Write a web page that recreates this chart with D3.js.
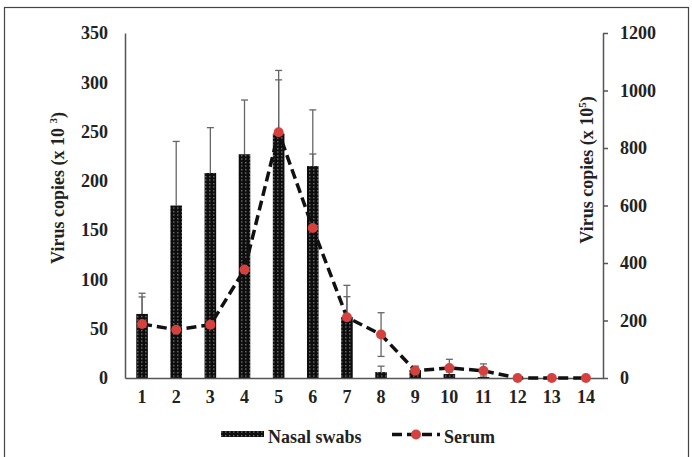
<!DOCTYPE html>
<html>
<head>
<meta charset="utf-8">
<script src="https://cdn.jsdelivr.net/npm/d3@7/dist/d3.min.js"></script>
<style>
  html, body { margin: 0; padding: 0; background: #fff; }
  svg { display: block; }
  text { font-family: "Liberation Serif", "Times New Roman", serif; font-weight: bold; fill: #222; }
</style>
</head>
<body>
<svg id="chart" width="692" height="457"></svg>
<script>
// ---- data ----
const days = ["1","2","3","4","5","6","7","8","9","10","11","12","13","14"];
const nasalMean = [65, 175, 208, 227, 248, 215, 62, 6, 8, 4, 1, 0, 0, 0];
const nasalErr  = [21, 65, 46, 55, 64, 57, 32, 6, 4, 2, 1, 0, 0, 0];
const serumMean = [188, 168, 185, 377, 855, 522, 211, 151, 25, 35, 25, 0, 0, 0];
const serumErr  = [94, 40, 40, 120, 182, 257, 72, 76, 15, 30, 24, 0, 0, 0];
const leftTicks = [0, 50, 100, 150, 200, 250, 300, 350];
const rightTicks = [0, 200, 400, 600, 800, 1000, 1200];

const svg = d3.select("#chart");
const L = 125, R = 603, T = 33, B = 378;

// frame
svg.append("rect").attr("x", 4.5).attr("y", 7.5).attr("width", 684).attr("height", 460)
  .attr("fill", "none").attr("stroke", "#444").attr("stroke-width", 1.2);

// pattern for bars
const defs = svg.append("defs");
const pat = defs.append("pattern").attr("id", "dots").attr("patternUnits", "userSpaceOnUse")
  .attr("width", 4).attr("height", 3.5);
pat.append("rect").attr("width", 4).attr("height", 3.5).attr("fill", "#0d0d0d");
pat.append("rect").attr("x", 1.2).attr("y", 1).attr("width", 1.2).attr("height", 1.2).attr("fill", "#9a9a9a");

const x = d3.scaleBand().domain(days).range([L, R]).paddingInner(0.66).paddingOuter(0.33);
const yL = d3.scaleLinear().domain([0, 350]).range([B, T]);
const yR = d3.scaleLinear().domain([0, 1200]).range([B, T]);
const cx = d => x(d) + x.bandwidth() / 2;

// error bars (drawn under bars)
const eb = svg.append("g").attr("stroke", "#666").attr("stroke-width", 1.3);
days.forEach((d, i) => {
  if (nasalErr[i] <= 0) return;
  const top = yL(nasalMean[i] + nasalErr[i]);
  eb.append("line").attr("x1", cx(d)).attr("x2", cx(d)).attr("y1", yL(nasalMean[i])).attr("y2", top);
  eb.append("line").attr("x1", cx(d) - 3.5).attr("x2", cx(d) + 3.5).attr("y1", top).attr("y2", top);
});
days.forEach((d, i) => {
  if (serumErr[i] <= 0) return;
  const top = yR(serumMean[i] + serumErr[i]);
  const bot = yR(Math.max(0, serumMean[i] - serumErr[i]));
  eb.append("line").attr("x1", cx(d)).attr("x2", cx(d)).attr("y1", bot).attr("y2", top);
  eb.append("line").attr("x1", cx(d) - 3.5).attr("x2", cx(d) + 3.5).attr("y1", top).attr("y2", top);
  eb.append("line").attr("x1", cx(d) - 3.5).attr("x2", cx(d) + 3.5).attr("y1", bot).attr("y2", bot);
});

// bars
svg.append("g").selectAll("rect").data(days).join("rect")
  .attr("x", d => x(d)).attr("width", x.bandwidth())
  .attr("y", (d, i) => yL(nasalMean[i]))
  .attr("height", (d, i) => B - yL(nasalMean[i]))
  .attr("fill", "url(#dots)");

// axes
const fs = "18px";
const gL = svg.append("g").attr("transform", `translate(${L},0)`)
  .call(d3.axisLeft(yL).tickValues(leftTicks).tickSize(0).tickPadding(17).tickFormat(d3.format("d")));
const gR = svg.append("g").attr("transform", `translate(${R},0)`)
  .call(d3.axisRight(yR).tickValues(rightTicks).tickSize(5).tickSizeOuter(0).tickPadding(12).tickFormat(d3.format("d")));
const gX = svg.append("g").attr("transform", `translate(0,${B})`)
  .call(d3.axisBottom(x).tickSize(0).tickPadding(12));
[gL, gR, gX].forEach(g => {
  g.selectAll("path.domain").attr("stroke", "#555").attr("stroke-width", 1.5);
  g.selectAll(".tick line").attr("stroke", "#555").attr("stroke-width", 1.5);
  g.selectAll("text").attr("font-size", fs).attr("font-family", "Liberation Serif").attr("font-weight", "bold").attr("fill", "#222");
});

// serum line
const line = d3.line().x((v, i) => cx(days[i])).y(v => yR(v));
svg.append("path").datum(serumMean).attr("d", line)
  .attr("fill", "none").attr("stroke", "#111").attr("stroke-width", 3.5)
  .attr("stroke-dasharray", "10,5");
svg.append("g").selectAll("circle").data(serumMean).join("circle")
  .attr("cx", (v, i) => cx(days[i])).attr("cy", v => yR(v)).attr("r", 5)
  .attr("fill", "#d5413f");

// axis titles
const tL = svg.append("text").attr("transform", "translate(64,188) rotate(-90)")
  .attr("text-anchor", "middle").attr("font-size", fs);
tL.append("tspan").text("Virus copies (x 10 ");
tL.append("tspan").attr("dy", -7).attr("font-size", "11px").text("3");
tL.append("tspan").attr("dy", 7).text(")");

const tR = svg.append("text").attr("transform", "translate(593,170) rotate(-90)")
  .attr("text-anchor", "middle").attr("font-size", fs);
tR.append("tspan").text("Virus copies (x 10");
tR.append("tspan").attr("dy", -7).attr("font-size", "11px").text("5");
tR.append("tspan").attr("dy", 7).text(")");

// legend
svg.append("rect").attr("x", 221).attr("y", 431).attr("width", 43).attr("height", 6).attr("fill", "url(#dots)");
svg.append("text").attr("x", 268).attr("y", 443).attr("font-size", fs).text("Nasal swabs");
svg.append("line").attr("x1", 392).attr("x2", 440).attr("y1", 434.5).attr("y2", 434.5)
  .attr("stroke", "#111").attr("stroke-width", 3.5).attr("stroke-dasharray", "10,5");
svg.append("circle").attr("cx", 416).attr("cy", 434.5).attr("r", 5).attr("fill", "#d5413f");
svg.append("text").attr("x", 444).attr("y", 443).attr("font-size", fs).text("Serum");
</script>
</body>
</html>
